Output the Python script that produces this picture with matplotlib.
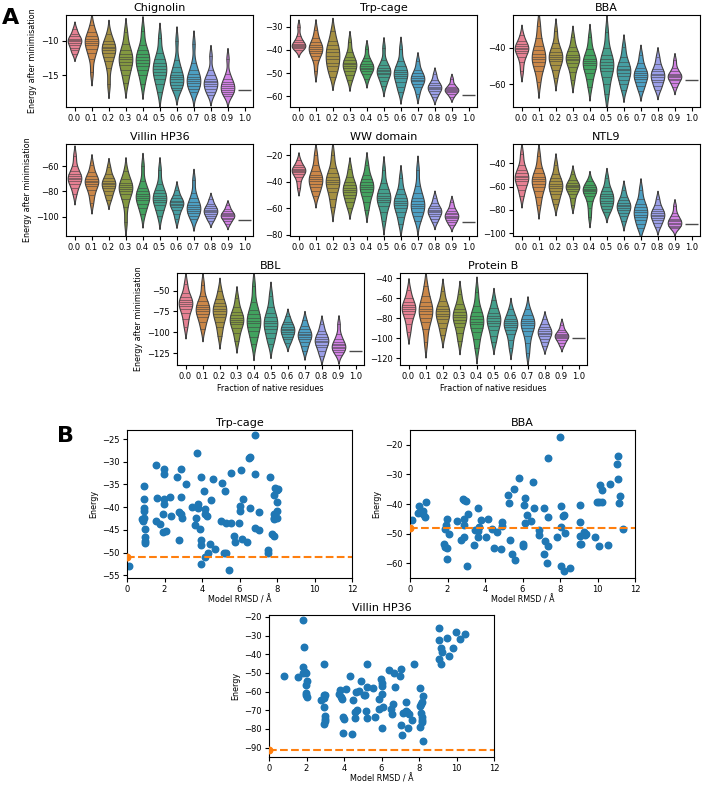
import numpy as np
import pandas as pd
import matplotlib
matplotlib.use("Agg")
import matplotlib.pyplot as plt
import seaborn as sns

fractions = ["0.0", "0.1", "0.2", "0.3", "0.4", "0.5", "0.6", "0.7", "0.8", "0.9", "1.0"]

# energies after minimisation, one list per fraction of native residues
chignolin = [
    [-8.3, -9.0, -9.4, -9.7, -9.9, -10.1, -10.3, -10.6, -11.0, -11.4, -11.9],
    [-7.8, -8.8, -9.4, -9.8, -10.0, -10.3, -10.7, -11.2, -11.8, -12.6, -14.6],
    [-9.0, -10.0, -10.5, -10.9, -11.1, -11.4, -11.8, -12.3, -13.0, -14.0, -16.3],
    [-8.8, -10.5, -11.3, -11.9, -12.3, -12.7, -13.1, -13.6, -14.2, -15.0, -16.2],
    [-8.6, -10.6, -11.4, -12.0, -12.4, -12.8, -13.2, -13.7, -14.3, -15.0, -16.3],
    [-9.6, -11.8, -12.6, -13.2, -13.7, -14.1, -14.5, -15.0, -15.6, -16.3, -17.5],
    [-10.0, -12.8, -13.8, -14.5, -15.0, -15.3, -15.6, -16.0, -16.4, -16.8, -17.2],
    [-10.5, -13.2, -14.2, -14.8, -15.2, -15.5, -15.8, -16.2, -16.6, -17.0, -17.5],
    [-12.2, -14.3, -15.0, -15.5, -15.8, -16.0, -16.3, -16.6, -17.0, -17.4, -17.8],
    [-12.6, -14.8, -15.5, -16.0, -16.3, -16.5, -16.8, -17.1, -17.4, -17.7, -18.0],
    [-17.1],
]
trp_cage = [
    [-30.0, -34.0, -35.8, -36.8, -37.5, -38.0, -38.4, -38.8, -39.3, -40.0],
    [-31.5, -35.0, -36.8, -38.0, -38.8, -39.5, -40.3, -41.2, -42.5, -44.5, -49.0],
    [-32.0, -36.0, -38.0, -39.5, -41.0, -42.5, -44.0, -45.5, -47.0, -49.0, -51.5],
    [-36.5, -41.0, -43.0, -44.5, -45.5, -46.3, -47.0, -48.0, -49.2, -51.0, -53.0],
    [-39.5, -43.5, -45.0, -46.2, -47.0, -47.6, -48.3, -49.2, -50.3, -52.5],
    [-39.0, -44.5, -46.5, -47.8, -48.6, -49.2, -49.8, -50.6, -51.8, -53.5, -55.5],
    [-39.5, -45.0, -47.0, -48.5, -49.5, -50.3, -51.2, -52.3, -54.0, -56.0, -58.0],
    [-45.0, -48.5, -50.0, -51.2, -52.0, -52.8, -53.6, -54.6, -56.0, -59.0],
    [-50.5, -53.0, -54.3, -55.2, -55.8, -56.4, -57.0, -57.8, -58.8, -60.5],
    [-52.5, -54.8, -55.8, -56.5, -57.0, -57.3, -57.7, -58.2, -58.9, -60.2],
    [-59.6],
]
bba = [
    [-33.0, -36.5, -38.0, -39.2, -40.0, -40.8, -41.8, -43.0, -45.0, -48.0, -53.0],
    [-28.0, -35.0, -39.0, -41.5, -43.5, -45.0, -46.5, -48.0, -50.0, -53.0, -59.0],
    [-31.0, -37.5, -40.5, -42.5, -44.0, -45.0, -46.2, -47.5, -49.5, -52.0, -56.5],
    [-34.5, -39.5, -42.0, -43.8, -45.0, -46.0, -47.0, -48.5, -50.5, -53.5, -58.0],
    [-34.5, -41.0, -44.0, -46.0, -47.5, -48.5, -49.8, -51.5, -54.0, -57.0, -61.5],
    [-31.5, -40.0, -44.0, -46.5, -48.0, -49.5, -51.0, -53.0, -56.0, -60.0, -65.5],
    [-39.5, -45.0, -48.0, -50.0, -51.5, -52.5, -53.8, -55.5, -57.5, -60.0, -63.0],
    [-44.0, -48.5, -51.0, -52.8, -54.0, -55.0, -56.0, -57.2, -59.0, -61.0, -63.5],
    [-45.0, -49.0, -51.5, -53.0, -54.2, -55.2, -56.2, -57.5, -59.0, -61.0, -63.0],
    [-47.0, -51.0, -53.0, -54.3, -55.0, -55.6, -56.2, -57.0, -58.0, -59.5, -61.5],
    [-58.0],
]
villin = [
    [-52.0, -60.0, -64.0, -66.5, -68.0, -69.3, -70.5, -72.0, -74.0, -77.0, -82.0],
    [-59.0, -65.0, -68.0, -70.0, -71.5, -72.5, -74.0, -76.0, -79.0, -83.0, -89.0],
    [-61.0, -66.5, -69.5, -71.5, -73.0, -74.3, -75.8, -77.5, -80.0, -83.0, -86.5],
    [-64.0, -70.0, -73.0, -75.0, -76.5, -78.0, -79.5, -82.0, -86.0, -92.0, -104.0],
    [-60.0, -72.0, -77.0, -80.0, -82.0, -83.5, -85.0, -87.0, -89.5, -93.0, -98.0],
    [-63.0, -74.0, -78.5, -81.5, -83.5, -85.0, -86.5, -88.5, -91.0, -94.5, -99.5],
    [-78.5, -83.0, -85.5, -87.2, -88.5, -89.5, -90.7, -92.2, -94.5, -97.5, -102.0],
    [-71.0, -81.0, -85.5, -88.5, -90.5, -92.0, -93.5, -95.0, -97.0, -99.5, -102.0],
    [-86.0, -89.5, -91.5, -93.0, -94.3, -95.3, -96.3, -97.5, -99.0, -101.0, -103.0],
    [-91.0, -94.0, -95.7, -97.0, -98.0, -98.8, -99.6, -100.5, -101.7, -103.3, -105.5],
    [-102.5],
]
ww_domain = [
    [-23.5, -27.0, -28.8, -30.0, -31.0, -31.8, -32.7, -34.0, -36.0, -39.5, -44.5],
    [-19.5, -27.0, -31.5, -34.5, -36.5, -38.0, -39.5, -41.5, -44.0, -47.0, -50.5],
    [-20.0, -29.5, -33.5, -36.5, -38.5, -40.0, -42.0, -44.5, -48.0, -53.0, -59.0],
    [-30.0, -36.5, -40.0, -42.5, -44.5, -46.0, -47.8, -50.0, -52.5, -55.5, -59.5],
    [-27.0, -34.5, -38.0, -40.5, -42.5, -44.0, -45.8, -48.0, -51.0, -55.0, -61.0],
    [-31.0, -41.0, -45.5, -48.5, -50.5, -52.0, -53.5, -55.5, -58.5, -63.0, -69.5],
    [-37.0, -45.5, -49.5, -52.5, -54.5, -56.0, -57.5, -59.5, -62.5, -66.5, -72.0],
    [-31.0, -43.0, -48.5, -52.0, -54.5, -56.5, -58.0, -60.0, -62.5, -65.5, -69.5],
    [-52.0, -56.0, -58.3, -60.0, -61.2, -62.2, -63.2, -64.5, -66.0, -68.0, -70.5],
    [-55.5, -59.5, -61.8, -63.3, -64.5, -65.5, -66.4, -67.5, -69.0, -70.5, -72.5],
    [-70.6],
]
ntl9 = [
    [-32.0, -41.0, -45.5, -48.5, -50.5, -52.0, -53.5, -55.5, -58.5, -62.5, -68.0],
    [-34.0, -44.0, -48.5, -51.5, -53.5, -55.5, -57.5, -60.0, -63.5, -68.5, -76.0],
    [-41.0, -49.0, -53.0, -55.5, -57.5, -59.5, -61.3, -63.5, -66.5, -70.5, -75.0],
    [-49.0, -54.0, -56.5, -58.3, -59.5, -60.5, -61.7, -63.5, -66.0, -70.0, -75.5],
    [-55.5, -58.5, -60.3, -61.7, -62.8, -64.0, -65.5, -68.0, -72.0, -78.0, -86.0],
    [-52.5, -60.0, -63.5, -66.0, -68.0, -70.0, -72.0, -74.0, -76.5, -79.0, -82.0],
    [-62.5, -68.5, -71.5, -73.8, -75.5, -77.0, -78.5, -80.2, -82.5, -85.5, -90.0],
    [-62.5, -71.0, -75.0, -77.8, -80.0, -82.0, -84.0, -86.3, -89.0, -92.5, -96.0],
    [-70.5, -76.0, -79.0, -81.0, -82.7, -84.0, -85.3, -87.0, -89.0, -91.5, -94.5],
    [-76.5, -82.5, -85.5, -87.5, -89.0, -90.0, -91.0, -92.2, -93.5, -95.0, -96.0],
    [-92.3],
]
bbl = [
    [-42.0, -53.0, -58.0, -61.5, -64.0, -66.0, -68.5, -72.0, -77.0, -84.0, -93.0],
    [-43.0, -57.0, -63.0, -67.0, -70.0, -72.5, -75.0, -78.0, -82.0, -88.0, -96.0],
    [-50.0, -60.0, -65.0, -69.0, -72.0, -75.0, -78.0, -82.0, -87.0, -94.0, -104.0],
    [-59.0, -70.0, -75.5, -79.5, -82.5, -85.0, -87.5, -90.5, -95.0, -101.0, -110.0],
    [-45.0, -64.0, -73.0, -78.5, -82.5, -86.0, -89.0, -93.0, -98.0, -105.0, -114.0],
    [-56.0, -70.0, -77.0, -82.0, -86.0, -89.0, -92.0, -96.0, -101.0, -107.0, -114.0],
    [-81.0, -87.0, -90.5, -93.0, -95.5, -97.5, -99.5, -102.0, -105.0, -108.5, -113.0],
    [-85.0, -92.0, -96.0, -99.0, -101.5, -103.5, -105.5, -108.0, -111.5, -116.0, -122.0],
    [-90.5, -98.0, -102.5, -105.5, -108.0, -110.0, -112.0, -114.5, -118.0, -122.5, -128.0],
    [-90.0, -102.0, -107.5, -111.0, -113.5, -115.5, -117.3, -119.0, -121.0, -123.5, -127.0],
    [-122.2],
]
protein_b = [
    [-52.0, -60.0, -64.0, -67.0, -69.0, -71.0, -73.0, -76.0, -80.0, -86.0, -94.0],
    [-48.0, -58.0, -63.5, -67.5, -70.5, -73.0, -76.0, -79.5, -84.0, -91.0, -104.0],
    [-53.0, -63.0, -67.5, -70.5, -73.0, -75.5, -78.0, -81.0, -85.0, -90.0, -97.0],
    [-56.0, -66.0, -70.5, -74.0, -76.5, -79.0, -81.5, -84.5, -89.0, -95.0, -103.0],
    [-54.0, -68.0, -74.0, -78.0, -81.0, -83.5, -86.0, -89.5, -94.0, -101.0, -110.0],
    [-62.0, -70.0, -74.5, -77.5, -80.0, -82.5, -85.0, -88.0, -92.0, -97.5, -104.0],
    [-71.0, -77.0, -80.5, -83.0, -85.0, -87.0, -89.0, -92.0, -96.0, -102.0, -110.0],
    [-71.0, -77.0, -80.5, -83.0, -85.0, -87.0, -89.5, -93.0, -98.0, -105.0, -115.0],
    [-81.0, -86.0, -89.0, -91.0, -93.0, -94.5, -96.0, -98.0, -100.5, -104.0, -108.0],
    [-86.5, -91.5, -94.0, -95.8, -97.0, -98.0, -99.0, -100.2, -102.0, -104.5, -107.5],
    [-100.0],
]

# model RMSD vs energy
trp_rmsd = [0.09, 0.88, 0.92, 0.92, 0.92, 0.88, 0.78, 0.83, 0.95, 0.95, 0.95, 0.95,
            1.56, 1.59, 1.56, 1.77, 1.98, 1.95, 1.95, 1.95, 1.92, 1.92, 2.06, 2.28,
            2.37, 2.65, 2.88, 2.88, 2.76, 2.88, 2.95, 2.76, 3.13, 3.75, 3.49, 3.79,
            3.79, 3.66, 3.61, 3.93, 3.90, 3.93, 3.96, 3.96, 4.10, 4.14, 4.18, 4.25,
            4.32, 4.14, 4.42, 4.60, 4.50, 4.70, 5.06, 5.03, 5.17, 5.20, 5.27, 5.30,
            5.43, 5.52, 5.52, 5.70, 5.75, 5.96, 6.02, 6.05, 6.09, 6.16, 6.14, 6.40,
            6.49, 6.58, 6.55, 6.80, 6.80, 6.80, 7.03, 7.03, 7.61, 7.52, 7.52, 7.73,
            7.86, 7.86, 7.91, 7.86, 7.82, 7.98, 8.00, 8.00, 8.00, 7.86, 8.04]
trp_energy = [-52.9, -35.4, -38.3, -40.1, -40.8, -42.3, -42.5, -43.1, -44.8, -46.5, -47.4, -47.8,
              -30.8, -37.9, -43.1, -43.8, -31.6, -32.7, -38.1, -39.3, -41.4, -45.5, -45.3, -37.8,
              -42.0, -33.3, -31.6, -37.7, -41.0, -41.6, -42.3, -47.2, -34.8, -28.0, -39.9, -40.2,
              -39.3, -42.3, -44.0, -33.3, -44.7, -47.3, -48.4, -52.5, -36.5, -40.4, -41.4, -41.9,
              -50.0, -51.0, -48.2, -33.9, -38.4, -49.3, -34.6, -43.1, -50.0, -36.5, -43.4, -50.2,
              -53.8, -43.4, -32.5, -46.3, -47.6, -43.5, -39.7, -40.8, -31.8, -38.3, -47.0, -47.6,
              -29.1, -28.9, -40.2, -24.1, -32.8, -44.6, -45.1, -41.0, -33.4, -49.5, -50.0, -45.9,
              -46.3, -37.4, -35.7, -41.4, -42.3, -36.2, -38.9, -40.8, -42.3, -42.7, -36.0]
trp_native = -51.0

bba_rmsd = [0.10, 0.50, 0.44, 0.62, 0.71, 0.71, 0.78, 0.85, 1.83, 1.88, 1.99, 1.95,
            1.92, 1.86, 2.09, 1.99, 2.48, 2.70, 2.80, 2.87, 3.00, 2.90, 2.90, 2.87,
            3.07, 3.05, 3.40, 3.48, 3.62, 3.65, 3.65, 3.69, 3.81, 4.04, 4.15, 4.36,
            4.47, 4.64, 4.87, 4.93, 4.93, 5.25, 5.28, 5.35, 5.46, 5.53, 5.60, 5.82,
            6.00, 6.00, 6.06, 6.12, 6.13, 6.24, 6.45, 6.56, 6.60, 6.88, 6.88, 7.16,
            7.21, 7.16, 7.30, 7.34, 7.36, 7.36, 7.84, 7.98, 8.05, 8.05, 8.05, 8.16,
            8.23, 8.24, 8.19, 8.51, 9.04, 9.04, 9.04, 9.11, 9.08, 9.29, 9.31, 9.40,
            9.89, 9.99, 10.07, 10.07, 10.14, 10.25, 10.25, 10.55, 10.64, 11.03, 11.10, 11.08,
            11.17, 11.20, 11.35]
bba_energy = [-45.5, -40.8, -42.9, -42.7, -42.3, -43.5, -44.3, -39.4, -53.4, -54.5, -54.8, -45.2,
              -47.2, -48.5, -50.1, -58.6, -45.6, -52.2, -38.3, -38.8, -39.1, -45.2, -47.1, -51.3,
              -43.5, -60.9, -54.0, -48.7, -41.5, -49.0, -51.3, -47.8, -45.5, -51.3, -45.2, -48.4,
              -54.8, -49.4, -55.1, -46.2, -47.3, -37.1, -39.7, -52.0, -56.9, -35.0, -59.0, -31.3,
              -53.4, -54.3, -40.3, -38.0, -46.4, -43.6, -45.9, -32.4, -41.2, -48.7, -50.6, -41.3,
              -52.4, -56.9, -60.1, -24.5, -44.3, -54.3, -51.3, -17.3, -40.8, -47.8, -60.9, -44.1,
              -43.7, -49.9, -62.7, -61.7, -40.2, -46.0, -53.4, -53.4, -50.8, -49.4, -50.5, -50.1,
              -51.3, -39.4, -54.1, -39.4, -33.6, -35.3, -39.4, -53.7, -33.4, -26.4, -23.8, -31.7,
              -39.7, -37.3, -48.5]
bba_native = -48.0

villin_rmsd = [0.78, 1.54, 1.81, 1.81, 1.83, 1.86, 1.90, 1.99, 1.95, 2.02, 1.95, 1.99, 2.02,
               2.78, 2.91, 2.94, 2.97, 2.94, 2.97, 2.97, 3.01, 2.94, 2.94, 3.76, 3.72, 3.83,
               3.90, 4.08, 3.97, 4.01, 3.97, 4.33, 4.43, 4.50, 4.57, 4.57, 4.68, 4.65, 4.79,
               4.89, 5.04, 5.14, 5.18, 5.21, 5.25, 5.25, 5.57, 5.66, 5.85, 5.89, 5.98, 6.00,
               6.02, 6.02, 6.02, 6.10, 6.38, 6.49, 6.56, 6.63, 6.67, 6.70, 6.99, 7.06, 7.02,
               7.09, 7.13, 7.30, 7.30, 7.37, 7.45, 7.39, 7.62, 7.71, 8.05, 8.05, 8.09, 8.12,
               8.05, 8.16, 8.19, 8.16, 8.16, 8.16, 8.23, 9.08, 9.08, 9.04, 9.15, 9.15, 9.22,
               9.47, 9.61, 9.79, 9.96, 10.20, 10.43]
villin_energy = [-51.7, -52.1, -50.3, -46.8, -21.8, -36.2, -49.6, -50.3, -56.7, -54.4, -60.6, -62.0, -62.7,
                 -64.4, -63.2, -62.0, -61.6, -68.1, -72.9, -74.7, -75.6, -77.3, -45.4, -59.2, -61.3, -62.7,
                 -63.7, -58.8, -73.8, -74.7, -82.3, -51.7, -82.6, -64.4, -71.1, -74.3, -69.7, -60.2, -59.7,
                 -54.4, -62.0, -62.0, -70.3, -74.3, -45.4, -57.6, -58.1, -73.4, -69.4, -63.7, -53.5, -79.6,
                 -55.3, -57.0, -61.4, -68.3, -48.2, -69.4, -71.9, -66.7, -50.2, -57.4, -51.4, -47.9, -77.7,
                 -83.0, -71.5, -65.5, -70.4, -71.1, -71.9, -79.3, -75.0, -45.0, -58.1, -67.6, -66.9, -71.7,
                 -79.1, -65.5, -62.3, -73.8, -75.0, -76.4, -86.5, -26.2, -32.3, -42.4, -45.0, -36.6, -39.0,
                 -31.3, -40.8, -36.8, -28.1, -31.6, -29.2]
villin_native = -91.0

violin_panels = [
    ("Chignolin", chignolin, (15, 66), (-19.6, -6.3), [-15, -10]),
    ("Trp-cage", trp_cage, (15, 290), (-64.6, -25.0), [-60, -50, -40, -30]),
    ("BBA", bba, (15, 513), (-72.5, -22.2), [-60, -40]),
    ("Villin HP36", villin, (144, 66), (-115.0, -42.7), [-100, -80, -60]),
    ("WW domain", ww_domain, (144, 290), (-81.0, -11.4), [-80, -60, -40, -20]),
    ("NTL9", ntl9, (144, 513), (-102.5, -23.3), [-100, -80, -60, -40]),
    ("BBL", bbl, (273, 177), (-139.0, -29.0), [-125, -100, -75, -50]),
    ("Protein B", protein_b, (273, 400), (-127.0, -35.0), [-120, -100, -80, -60, -40]),
]
scatter_panels = [
    ("Trp-cage", trp_rmsd, trp_energy, trp_native, (430, 127, 148), (-55.6, -23.0), [-55, -50, -45, -40, -35, -30, -25]),
    ("BBA", bba_rmsd, bba_energy, bba_native, (430, 410, 148), (-65.0, -15.0), [-60, -50, -40, -30, -20]),
    ("Villin HP36", villin_rmsd, villin_energy, villin_native, (615, 269, 142), (-95.0, -19.0), [-90, -80, -70, -60, -50, -40, -30, -20]),
]

W, H = 704, 787
fig = plt.figure(figsize=(W / 100, H / 100), dpi=100)
plt.rcParams['font.family'] = ['DejaVu Sans']
tick_fs = 6.0
lab_fs = 5.8
title_fs = 8.0
pal = sns.husl_palette(len(fractions))


def px_axes(top, left, w, h):
    return fig.add_axes([left / W, 1 - (top + h) / H, w / W, h / H])


for i, (name, groups, (top, left), ylim, yticks) in enumerate(violin_panels):
    ax = px_axes(top, left, 187, 92)
    xs, ys = [], []
    for lab, vals in zip(fractions[:-1], groups[:-1]):
        xs += [lab] * len(vals)
        ys += vals
    df = pd.DataFrame({"frac": xs, "energy": ys})
    sns.violinplot(data=df, x="frac", y="energy", hue="frac", order=fractions,
                   hue_order=fractions, palette=pal, inner="stick", legend=False,
                   saturation=0.75, linewidth=0.8, bw_adjust=0.8, ax=ax)
    # single structure at 1.0 -> horizontal line
    ax.hlines(groups[-1], 10 - 0.4, 10 + 0.4, color="#4a4a4a", lw=1.0)
    ax.set_xlim(-0.5, 10.5)
    ax.set_ylim(*ylim)
    ax.set_yticks(yticks)
    ax.set_title(name, fontsize=title_fs, pad=3)
    ax.tick_params(labelsize=tick_fs, length=3, pad=2)
    ax.set_xlabel("Fraction of native residues" if i >= 6 else "", fontsize=lab_fs, labelpad=2)
    ax.set_ylabel("Energy after minimisation" if left < 200 else "", fontsize=lab_fs, labelpad=3)

for name, rmsd, energy, native, (top, left, h), ylim, yticks in scatter_panels:
    ax = px_axes(top, left, 225, h)
    ax.scatter(rmsd, energy, s=22, color="C0")
    ax.axhline(native, color="C1", ls="--", lw=1.5)
    ax.scatter([0], [native], s=22, color="C1", zorder=3)
    ax.set_xlim(0, 12)
    ax.set_xticks(range(0, 13, 2))
    ax.set_ylim(*ylim)
    ax.set_yticks(yticks)
    ax.set_title(name, fontsize=title_fs, pad=3)
    ax.tick_params(labelsize=tick_fs, length=3, pad=2)
    ax.set_xlabel("Model RMSD / Å", fontsize=lab_fs, labelpad=1)
    ax.set_ylabel("Energy", fontsize=lab_fs, labelpad=3)

fig.text(2 / W, 1 - 24 / H, "A", fontsize=16, fontweight="bold")
fig.text(57 / W, 1 - 442 / H, "B", fontsize=16, fontweight="bold")

fig.savefig("out.png", dpi=100)
